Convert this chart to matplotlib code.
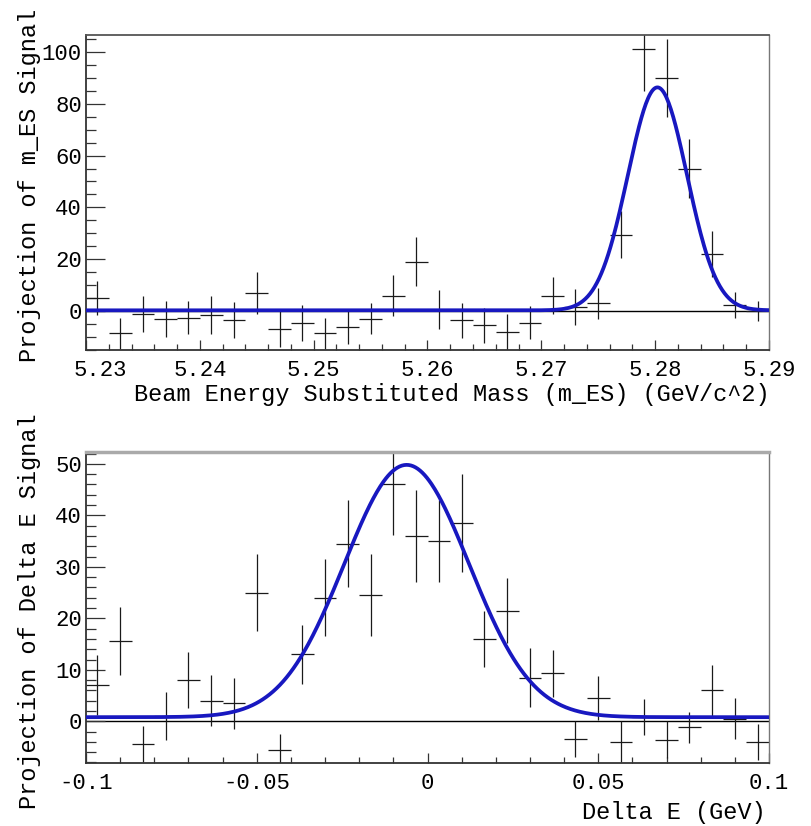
import numpy as np
import matplotlib
matplotlib.use('Agg')
import matplotlib.pyplot as plt
import matplotlib.transforms as mtransforms
from matplotlib.ticker import MultipleLocator

plt.rcParams['font.family'] = ['Liberation Mono', 'DejaVu Sans Mono']
plt.rcParams['axes.unicode_minus'] = False

# --- m_ES projection (30 bins, 5.23 - 5.29) ---
mes_lo, mes_hi, mes_nbins = 5.23, 5.29, 30
mes_y = [5, -8.5, -1, -3, -2.5, -1.5, -3.5, 7, -7, -4.5,
         -8.5, -6, -3, 6, 19, 0.5, -3.5, -5.5, -8, -4.5,
         6, 1.5, 3, 29.5, 101, 90, 55, 22, 2.5, 0]
mes_err = [6.5, 6, 7, 7, 6.5, 7.5, 7, 8, 7, 7,
           6, 6.5, 6, 8, 9.5, 7.5, 6.7, 6.7, 7, 6.4,
           7, 7, 6, 9, 16, 15, 11.5, 9, 5, 4]
# fitted signal shape: peak height, mean, sigma, flat level
mes_fit = dict(amp=86.0, mean=5.2802, sigma=0.0026, base=0.3)
mes_xticks = [5.23, 5.24, 5.25, 5.26, 5.27, 5.28, 5.29]
mes_xticklabels = ['5.23', '5.24', '5.25', '5.26', '5.27', '5.28', '5.29']
mes_yticks = [0, 20, 40, 60, 80, 100]

# --- Delta E projection (30 bins, -0.1 - 0.1) ---
de_lo, de_hi, de_nbins = -0.1, 0.1, 30
de_y = [7, 15.5, -4.5, 1, 8, 4, 3.5, 25, -5.5, 13,
        24, 34.5, 24.5, 46, 36, 35, 38.5, 16, 21.5, 8.5,
        9.3, -3.5, 4.5, -4, 0.8, -3.6, -1.2, 6, 0.5, -4]
de_err = [5.8, 6.6, 3.5, 4.7, 5.5, 5, 5, 7.5, 3, 5.7,
          7.5, 8.5, 8, 9.8, 9, 8, 9.5, 5.5, 6.3, 5.8,
          4.5, 3.5, 4.3, 4, 3.5, 3.6, 3, 5, 4, 3.5]
de_fit = dict(amp=49.0, mean=-0.0061, sigma=0.0183, base=0.8)
de_xticks = [-0.1, -0.05, 0, 0.05, 0.1]
de_xticklabels = ['-0.1', '-0.05', '0', '0.05', '0.1']
de_yticks = [0, 10, 20, 30, 40, 50]

W, H = 812, 826
fig = plt.figure(figsize=(W / 100, H / 100), dpi=100)


def px_axes(left, top, right, bottom):
    return fig.add_axes([left / W, 1 - bottom / H, (right - left) / W, (bottom - top) / H])


def gauss(x, p):
    return p['base'] + p['amp'] * np.exp(-0.5 * ((x - p['mean']) / p['sigma']) ** 2)


def draw_panel(ax, lo, hi, nbins, y, err, fit, ylim):
    width = (hi - lo) / nbins
    centers = lo + width * (np.arange(nbins) + 0.5)
    ax.axhline(0, color='black', lw=1.0, zorder=1)
    ax.errorbar(centers, y, xerr=width / 2, yerr=err, fmt='none',
                ecolor='#1a1a1a', elinewidth=0.9, capsize=0, zorder=2)
    xs = np.linspace(lo, hi, 600)
    ax.plot(xs, gauss(xs, fit), color='#1818c0', lw=2.7, zorder=3)
    ax.set_xlim(lo, hi)
    ax.set_ylim(*ylim)
    for side in ['left', 'bottom']:
        ax.spines[side].set_linewidth(1.3)
        ax.spines[side].set_color('#333333')
    ax.spines['right'].set_linewidth(1.0)
    ax.spines['right'].set_color('#777777')
    ax.tick_params(axis='both', which='both', direction='in', labelsize=16,
                   width=0.9, color='#333333')
    ax.tick_params(axis='y', which='major', length=14, pad=3)
    ax.tick_params(axis='y', which='minor', length=7)
    ax.tick_params(axis='x', which='major', length=7, pad=7)
    ax.tick_params(axis='x', which='minor', length=4.5)


ax1 = px_axes(86, 35, 769, 350)
draw_panel(ax1, mes_lo, mes_hi, mes_nbins, mes_y, mes_err, mes_fit, (-15, 106.5))
ax1.set_xticks(mes_xticks)
ax1.set_xticklabels(mes_xticklabels)
ax1.xaxis.set_minor_locator(MultipleLocator(0.002))
ax1.set_yticks(mes_yticks)
ax1.yaxis.set_minor_locator(MultipleLocator(5))
ax1.spines['top'].set_linewidth(1.3)
ax1.spines['top'].set_color('#555555')
# first label sits a little right of its tick, as in the original
first = ax1.get_xticklabels()[0]
first.set_transform(first.get_transform() +
                    mtransforms.ScaledTranslation(0.14, 0, fig.dpi_scale_trans))

ax2 = px_axes(86, 452, 769, 763)
draw_panel(ax2, de_lo, de_hi, de_nbins, de_y, de_err, de_fit, (-8.1, 52.3))
ax2.set_xticks(de_xticks)
ax2.set_xticklabels(de_xticklabels)
ax2.xaxis.set_minor_locator(MultipleLocator(0.01))
ax2.set_yticks(de_yticks)
ax2.yaxis.set_minor_locator(MultipleLocator(2))
ax2.spines['top'].set_linewidth(2.5)
ax2.spines['top'].set_color('#aaaaaa')

fig.text(770 / W, 1 - 394 / H, 'Beam Energy Substituted Mass (m_ES) (GeV/c^2)',
         ha='right', va='center', fontsize=17)
fig.text(30 / W, 1 - 185 / H, 'Projection of m_ES Signal',
         rotation=90, ha='center', va='center', fontsize=17)
fig.text(766 / W, 1 - 813 / H, 'Delta E (GeV)',
         ha='right', va='center', fontsize=17)
fig.text(30 / W, 1 - 611 / H, 'Projection of Delta E Signal',
         rotation=90, ha='center', va='center', fontsize=17)

fig.savefig('out.png', dpi=100, facecolor='white')
